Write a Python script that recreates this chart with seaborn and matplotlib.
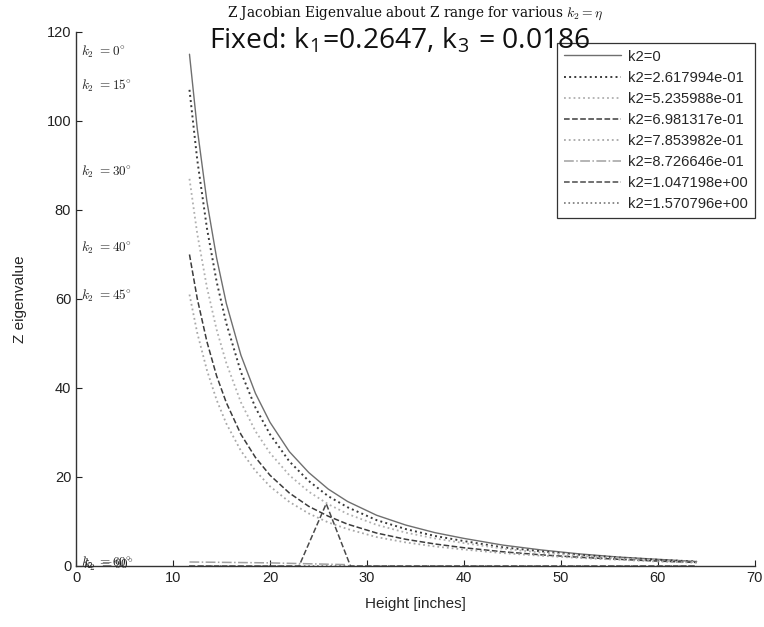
import numpy as np
import pandas as pd
import seaborn as sns
import matplotlib
matplotlib.use("Agg")
import matplotlib.pyplot as plt

# Height grid shared by the main curves [inches]
height = [11.7, 12.5, 13.5, 14.5, 15.5, 17, 18.5, 20, 22, 24, 26, 28,
          31, 34, 37, 40, 44, 48, 52, 56, 60, 64]

# Z eigenvalue, one list per k2
eig_k2_0 = [115, 98.3, 81.9, 69.2, 59.0, 47.4, 38.8, 32.3, 25.7, 21.0, 17.3, 14.5,
            11.4, 9.2, 7.5, 6.2, 4.7, 3.6, 2.7, 2.0, 1.5, 1.0]
eig_k2_15 = [107, 91.3, 75.9, 63.9, 54.5, 43.6, 35.6, 29.6, 23.5, 19.1, 15.7, 13.2,
             10.3, 8.3, 6.75, 5.6, 4.2, 3.3, 2.5, 1.9, 1.4, 1.0]
eig_k2_30 = [87, 74.7, 62.6, 53.1, 45.6, 36.8, 30.3, 25.4, 20.4, 16.7, 13.9, 11.7,
             9.25, 7.5, 6.2, 5.15, 3.9, 3.0, 2.3, 1.7, 1.2, 0.9]
eig_k2_40 = [70, 60.1, 50.4, 42.7, 36.7, 29.6, 24.4, 20.4, 16.4, 13.4, 11.2, 9.4,
             7.4, 6.0, 4.95, 4.1, 3.2, 2.5, 1.95, 1.5, 1.1, 0.8]
eig_k2_45 = [61, 52.4, 44.0, 37.3, 32.0, 25.9, 21.4, 17.9, 14.4, 11.8, 9.8, 8.3,
             6.5, 5.3, 4.4, 3.7, 2.9, 2.3, 1.8, 1.4, 1.0, 0.75]

# the small ones near the axis
height_k2_50 = [11.7, 16, 20, 24, 28]
eig_k2_50 = [0.9, 0.8, 0.7, 0.5, 0.3]
height_k2_60 = [11.7, 23.0, 25.8, 28.3, 64]
eig_k2_60 = [0, 0, 14, 0, 0]
height_k2_90 = [11.7, 64]
eig_k2_90 = [0, 0]

legend_labels = ["k2=0", "k2=2.617994e-01", "k2=5.235988e-01", "k2=6.981317e-01",
                 "k2=7.853982e-01", "k2=8.726646e-01", "k2=1.047198e+00",
                 "k2=1.570796e+00"]

# left side annotations: (label, y)
angle_labels = [(r"$k_2\ =0^{\circ}$", 115.5), (r"$k_2\ =15^{\circ}$", 108),
                (r"$k_2\ =30^{\circ}$", 88.5), (r"$k_2\ =40^{\circ}$", 71.5),
                (r"$k_2\ =45^{\circ}$", 60.7)]

sns.set_theme(style="ticks")
plt.rcParams["font.family"] = ["Liberation Sans", "DejaVu Sans"]
plt.rcParams["mathtext.fontset"] = "cm"

fig = plt.figure(figsize=(7.64, 6.27), dpi=100)
ax = fig.add_axes([0.0995, 0.0973, 0.8885, 0.8517])

series = [
    (height, eig_k2_0, "#6f6f6f", "-", 1.0),
    (height, eig_k2_15, "#3a3a3a", ":", 1.4),
    (height, eig_k2_30, "#b0b0b0", ":", 1.3),
    (height, eig_k2_40, "#3c3c3c", "--", 1.1),
    (height, eig_k2_45, "#a8a8a8", ":", 1.3),
    (height_k2_50, eig_k2_50, "#a0a0a0", "-.", 1.1),
    (height_k2_60, eig_k2_60, "#4a4a4a", "--", 1.1),
    (height_k2_90, eig_k2_90, "#777777", ":", 1.2),
]

for (xs, ys, col, ls, lw), lab in zip(series, legend_labels):
    df = pd.DataFrame({"Height": xs, "Eig": ys})
    sns.lineplot(data=df, x="Height", y="Eig", ax=ax, color=col, linestyle=ls,
                 linewidth=lw, label=lab, sort=False)

ax.set_xlim(0, 70)
ax.set_ylim(0, 120)
ax.set_xticks(np.arange(0, 71, 10))
ax.set_yticks(np.arange(0, 121, 20))
ax.tick_params(direction="in", length=4, width=0.8, labelsize=10.5, colors="#222222")
sns.despine(ax=ax)
for s in ["left", "bottom"]:
    ax.spines[s].set_color("#333333")
    ax.spines[s].set_linewidth(1.0)

ax.set_xlabel("Height [inches]", fontsize=11, labelpad=9)
ax.set_ylabel("Z eigenvalue", fontsize=11, labelpad=14)

for lab, yv in angle_labels:
    ax.text(0.5, yv, lab, fontsize=9.5, va="center", ha="left", color="#222222")
ax.text(0.5, 0.6, r"$k_2\ =60^{\circ}$", fontsize=9.5, va="center", ha="left", color="#222222")
ax.text(0.7, 0.3, r"$k_2\ =90^{\circ}$", fontsize=9.5, va="center", ha="left", color="#222222")

fig.text(0.544, 0.979, r"Z Jacobian Eigenvalue about Z range for various $k_2 = \eta$",
         ha="center", va="center", fontsize=9.8, family="DejaVu Serif",
         math_fontfamily="cm", color="#111111")
fig.text(0.273, 0.935, r"Fixed: k$_\mathregular{1}$=0.2647, k$_\mathregular{3}$ = 0.0186",
         ha="left", va="center", fontsize=20.3, family="Open Sans", zorder=1,
         color="#111111")

leg = ax.legend(loc="upper right", bbox_to_anchor=(0.988, 0.9314),
                bbox_transform=fig.transFigure, fontsize=10.6, handlelength=3.9,
                handletextpad=0.5, labelspacing=0.48, borderpad=0.45, borderaxespad=0,
                fancybox=False, edgecolor="#333333")
leg.get_frame().set_facecolor("none")
leg.get_frame().set_alpha(None)
leg.get_frame().set_linewidth(0.9)

fig.savefig("out.png", dpi=100)
